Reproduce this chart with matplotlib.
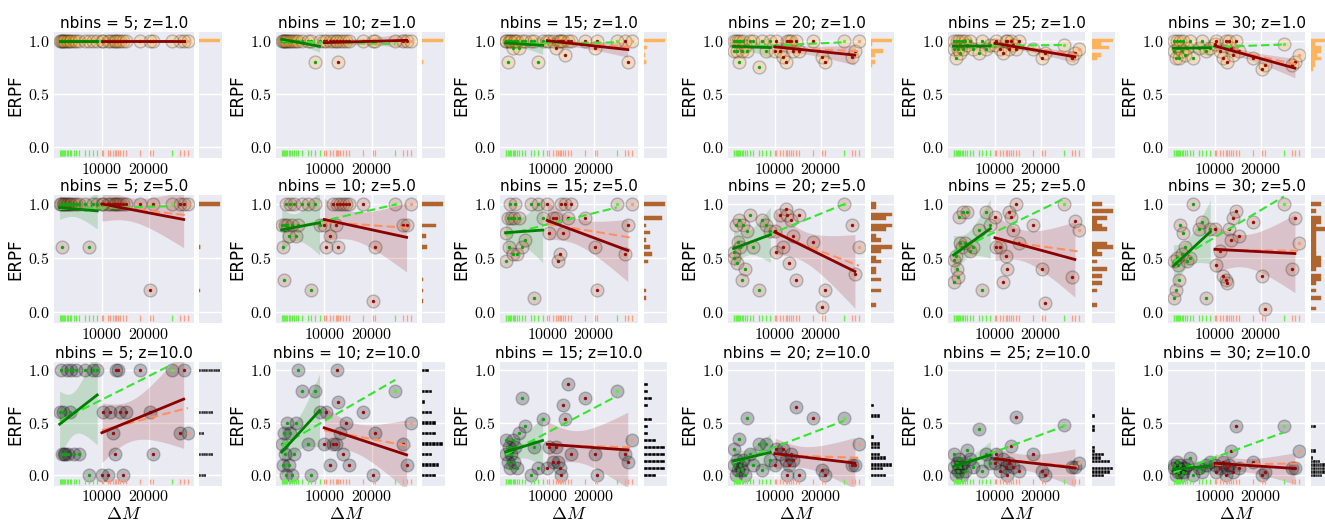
import numpy as np
import matplotlib.pyplot as plt
from matplotlib.ticker import FixedLocator, FuncFormatter

plt.rcParams['mathtext.fontset'] = 'cm'
plt.rcParams['font.family'] = ['DejaVu Sans']

# --- data ---------------------------------------------------------------
# Delta M of every point, split by group
x_green = [1000, 1200, 1500, 1700, 2000, 2200, 2500, 2800, 3100, 3500,
           4000, 4500, 5200, 6500, 7200, 8000, 9000]
x_red = [10000, 10300, 11200, 11800, 12400, 12700, 13000, 13400, 13900,
         14500, 15200, 18200, 20300, 20800, 26700, 27400]
x_lime = [25000]
x_salmon = [28300]

nbins_list = [5, 10, 15, 20, 25, 30]
z_list = [1.0, 5.0, 10.0]

# ERPF per panel: 17 green, 16 red, then lime, salmon
erpf_n5_z1 = [1.0, 1.0, 1.0, 1.0, 1.0, 1.0, 1.0, 1.0, 1.0, 1.0, 1.0, 1.0, 1.0, 1.0, 1.0, 1.0, 1.0,
              1.0, 1.0, 1.0, 1.0, 1.0, 1.0, 1.0, 1.0, 1.0, 1.0, 1.0, 1.0, 1.0, 1.0, 1.0, 1.0,
              1.0, 1.0]
erpf_n10_z1 = [1.0, 1.0, 1.0, 1.0, 1.0, 1.0, 1.0, 1.0, 1.0, 1.0, 1.0, 1.0, 1.0, 1.0, 1.0, 0.8, 1.0,
               1.0, 1.0, 1.0, 1.0, 1.0, 1.0, 0.8, 1.0, 1.0, 1.0, 1.0, 1.0, 1.0, 1.0, 1.0, 1.0,
               1.0, 1.0]
erpf_n15_z1 = [1.0, 1.0, 0.8, 1.0, 1.0, 1.0, 0.933, 1.0, 1.0, 1.0, 0.933, 1.0, 1.0, 1.0, 1.0, 0.8, 1.0,
               1.0, 1.0, 1.0, 0.933, 1.0, 1.0, 1.0, 1.0, 0.867, 1.0, 1.0, 1.0, 0.933, 1.0, 1.0, 0.8,
               1.0, 1.0]
erpf_n20_z1 = [1.0, 0.9, 1.0, 0.9, 1.0, 0.8, 1.0, 0.9, 1.0, 0.95, 0.9, 1.0, 1.0, 0.75, 1.0, 0.9, 1.0,
               0.9, 1.0, 0.9, 0.85, 0.8, 1.0, 1.0, 1.0, 0.9, 1.0, 0.9, 1.0, 0.85, 0.8, 0.85, 0.9,
               1.0, 1.0]
erpf_n25_z1 = [1.0, 0.92, 0.84, 1.0, 0.92, 1.0, 0.88, 1.0, 0.92, 1.0, 0.96, 1.0, 0.92, 0.88, 1.0, 0.92, 0.96,
               0.96, 1.0, 0.92, 0.88, 1.0, 1.0, 0.92, 1.0, 0.96, 0.92, 1.0, 0.92, 0.84, 0.88, 0.84, 0.88,
               0.96, 0.92]
erpf_n30_z1 = [1.0, 0.9, 0.833, 1.0, 0.933, 0.833, 1.0, 0.9, 1.0, 0.867, 0.933, 1.0, 0.833, 0.933, 1.0, 0.9, 0.933,
               0.967, 1.0, 0.9, 0.833, 1.0, 0.8, 1.0, 0.933, 0.867, 1.0, 0.9, 0.833, 0.733, 0.767, 0.767, 0.8,
               0.967, 0.867]

erpf_n5_z5 = [1.0, 1.0, 0.6, 1.0, 1.0, 1.0, 1.0, 1.0, 1.0, 1.0, 1.0, 1.0, 1.0, 1.0, 0.6, 1.0, 1.0,
              1.0, 1.0, 1.0, 1.0, 1.0, 1.0, 1.0, 1.0, 1.0, 1.0, 1.0, 1.0, 0.2, 1.0, 1.0, 1.0,
              1.0, 1.0]
erpf_n10_z5 = [0.8, 0.6, 0.3, 0.8, 1.0, 0.8, 0.7, 1.0, 0.8, 1.0, 0.7, 0.8, 1.0, 1.0, 0.2, 1.0, 0.8,
               0.8, 0.6, 0.7, 1.0, 0.8, 1.0, 0.6, 1.0, 1.0, 1.0, 1.0, 1.0, 0.1, 0.6, 0.8, 0.8,
               1.0, 1.0]
erpf_n15_z5 = [0.733, 0.467, 0.867, 0.6, 1.0, 0.867, 0.533, 0.867, 1.0, 0.533, 0.867, 0.6, 0.667, 1.0, 0.133, 1.0, 0.867,
               1.0, 0.733, 0.867, 0.867, 0.467, 0.533, 1.0, 0.733, 1.0, 0.867, 1.0, 0.867, 0.6, 0.2, 0.533, 0.8,
               1.0, 1.0]
erpf_n20_z5 = [0.55, 0.5, 0.8, 0.45, 0.65, 0.85, 0.6, 0.3, 0.8, 0.4, 0.75, 0.9, 0.6, 0.2, 0.85, 0.8, 0.75,
               0.75, 0.55, 0.9, 0.6, 0.95, 0.9, 0.45, 0.85, 0.7, 0.3, 0.9, 0.65, 0.05, 0.2, 0.8, 0.35,
               1.0, 0.6]
erpf_n25_z5 = [0.48, 0.28, 0.52, 0.4, 0.32, 0.88, 0.64, 0.6, 0.92, 0.64, 0.92, 0.56, 0.6, 0.76, 0.2, 0.92, 0.8,
               0.88, 0.6, 0.6, 0.28, 0.52, 0.4, 0.92, 0.88, 0.76, 1.0, 0.64, 0.8, 0.4, 0.08, 0.32, 0.84,
               1.0, 0.76]
erpf_n30_z5 = [0.467, 0.133, 0.2, 0.5, 0.433, 0.3, 0.8, 0.533, 0.733, 0.6, 0.467, 0.5, 1.0, 0.767, 0.833, 0.133, 0.767,
               0.767, 0.433, 0.567, 0.333, 0.3, 0.267, 0.767, 0.667, 0.867, 0.933, 0.7, 0.833, 0.333, 0.033, 0.4, 0.867,
               1.0, 0.633]

erpf_n5_z10 = [0.6, 1.0, 0.2, 0.6, 0.2, 0.2, 1.0, 0.2, 0.6, 1.0, 0.2, 1.0, 0.2, 1.0, 0.0, 1.0, 1.0,
               0.0, 0.6, 0.0, 0.6, 0.4, 0.2, 1.0, 1.0, 0.6, 0.0, 0.6, 1.0, 0.6, 0.2, 0.4, 1.0,
               1.0, 0.4]
erpf_n10_z10 = [0.3, 0.1, 0.4, 0.2, 0.0, 0.5, 0.1, 0.4, 0.0, 0.2, 0.5, 1.0, 0.8, 0.3, 0.0, 0.8, 0.6,
                0.3, 0.6, 0.1, 0.3, 0.3, 1.0, 0.7, 0.4, 0.2, 0.5, 0.1, 0.6, 0.0, 0.4, 0.3, 0.1,
                0.8, 0.5]
erpf_n15_z10 = [0.2, 0.333, 0.133, 0.267, 0.067, 0.2, 0.333, 0.133, 0.267, 0.067, 0.4, 0.733, 0.467, 0.0, 0.267, 0.067, 0.533,
                0.067, 0.267, 0.133, 0.267, 0.133, 0.067, 0.0, 0.667, 0.533, 0.867, 0.2, 0.733, 0.2, 0.0, 0.2, 0.133,
                0.8, 0.333]
erpf_n20_z10 = [0.1, 0.25, 0.0, 0.15, 0.05, 0.35, 0.1, 0.05, 0.15, 0.0, 0.55, 0.2, 0.1, 0.3, 0.05, 0.3, 0.15,
                0.1, 0.25, 0.2, 0.25, 0.15, 0.0, 0.1, 0.2, 0.15, 0.65, 0.0, 0.55, 0.05, 0.0, 0.1, 0.1,
                0.55, 0.3]
erpf_n25_z10 = [0.08, 0.2, 0.0, 0.12, 0.04, 0.16, 0.08, 0.0, 0.12, 0.04, 0.24, 0.16, 0.08, 0.44, 0.04, 0.2, 0.12,
                0.12, 0.2, 0.04, 0.16, 0.08, 0.0, 0.12, 0.28, 0.08, 0.56, 0.04, 0.2, 0.04, 0.0, 0.08, 0.08,
                0.48, 0.12]
erpf_n30_z10 = [0.067, 0.1, 0.0, 0.133, 0.033, 0.067, 0.1, 0.0, 0.033, 0.067, 0.1, 0.167, 0.0, 0.067, 0.033, 0.1, 0.133,
                0.1, 0.033, 0.067, 0.133, 0.0, 0.067, 0.1, 0.233, 0.033, 0.467, 0.067, 0.133, 0.0, 0.033, 0.067, 0.067,
                0.467, 0.233]

panels = [
    [erpf_n5_z1, erpf_n10_z1, erpf_n15_z1, erpf_n20_z1, erpf_n25_z1, erpf_n30_z1],
    [erpf_n5_z5, erpf_n10_z5, erpf_n15_z5, erpf_n20_z5, erpf_n25_z5, erpf_n30_z5],
    [erpf_n5_z10, erpf_n10_z10, erpf_n15_z10, erpf_n20_z10, erpf_n25_z10, erpf_n30_z10],
]

# --- styling ------------------------------------------------------------
BG = '#EAEAF2'
row_colors = ['#FFA62B', '#A5582A', '#000000']
hist_colors = ['#FFB45C', '#B0652F', '#000000']
dot_green, dot_red, dot_lime, dot_salmon = '#0FA30F', '#9B0A0A', '#55F035', '#FF9A70'

W, H = 1325, 521
col_px = [(54, 194, 199), (276, 417, 422), (500, 638, 644),
          (728, 865, 871), (948, 1085, 1092), (1168, 1305, 1311)]
row_px = [(32, 158), (195, 323), (362, 486)]
marg_w = 23


def fit_line(x, y, xs):
    x = np.asarray(x, float)
    y = np.asarray(y, float)
    b, a = np.polyfit(x, y, 1)
    yhat = a + b * xs
    resid = y - (a + b * x)
    n = len(x)
    s = np.sqrt(np.sum(resid ** 2) / (n - 2))
    sxx = np.sum((x - x.mean()) ** 2)
    se = s * np.sqrt(1.0 / n + (xs - x.mean()) ** 2 / sxx)
    return yhat, 2.13 * se


def style_axes(ax):
    ax.set_facecolor(BG)
    for sp in ax.spines.values():
        sp.set_visible(False)
    ax.grid(True, color='white', lw=1.0)
    ax.set_axisbelow(True)
    ax.tick_params(length=0, labelsize=11.5, pad=3)


fig = plt.figure(figsize=(W / 100, H / 100), dpi=100)

ng = len(x_green)
nr = len(x_red)

for r, z in enumerate(z_list):
    top, bot = row_px[r]
    for c, nb in enumerate(nbins_list):
        left, right, mleft = col_px[c]
        y_all = np.array(panels[r][c], float)
        y_g = y_all[:ng]
        y_r = y_all[ng:ng + nr]
        y_l = y_all[ng + nr:ng + nr + 1]
        y_s = y_all[ng + nr + 1:]

        ax = fig.add_axes([left / W, 1 - bot / H, (right - left) / W, (bot - top) / H])
        style_axes(ax)

        # regression bands + lines
        xs_g = np.linspace(min(x_green), max(x_green), 60)
        yh, ci = fit_line(x_green, y_g, xs_g)
        ax.fill_between(xs_g, yh - ci, yh + ci, color='green', alpha=0.17, lw=0, zorder=1)
        ax.plot(xs_g, yh, color='green', lw=2, zorder=5)

        xs_r = np.linspace(min(x_red), max(x_red), 60)
        yh, ci = fit_line(x_red, y_r, xs_r)
        ax.fill_between(xs_r, yh - ci, yh + ci, color='darkred', alpha=0.17, lw=0, zorder=1)
        ax.plot(xs_r, yh, color='darkred', lw=2, zorder=5)

        xg_all = x_green + x_lime
        xs_gl = np.linspace(min(xg_all), max(xg_all), 60)
        yh, _ = fit_line(xg_all, np.concatenate([y_g, y_l]), xs_gl)
        ax.plot(xs_gl, yh, color='#33E62E', lw=1.5, ls=(0, (4, 2)), zorder=4)

        xr_all = x_red + x_salmon
        xs_rs = np.linspace(min(xr_all), max(xr_all), 60)
        yh, _ = fit_line(xr_all, np.concatenate([y_r, y_s]), xs_rs)
        ax.plot(xs_rs, yh, color='#FF8F60', lw=1.5, ls=(0, (4, 2)), zorder=4)

        # big translucent circles, then small coloured dots
        x_all = x_green + x_red + x_lime + x_salmon
        ax.scatter(x_all, y_all, s=85, color=row_colors[r], alpha=0.22,
                   edgecolors='k', linewidths=1.0, zorder=2)
        ax.scatter(x_green, y_g, s=6, color=dot_green, lw=0, zorder=3)
        ax.scatter(x_red, y_r, s=6, color=dot_red, lw=0, zorder=3)
        ax.scatter(x_lime, y_l, s=6, color=dot_lime, lw=0, zorder=3)
        ax.scatter(x_salmon, y_s, s=6, color=dot_salmon, lw=0, zorder=3)

        # rug
        trans = ax.get_xaxis_transform()
        ax.vlines(x_green + x_lime, 0.015, 0.06, transform=trans, colors='#66F04A', lw=0.9)
        ax.vlines(x_red + x_salmon, 0.015, 0.06, transform=trans, colors='#FF9E80', lw=0.9)

        ax.set_xlim(-200, 29600)
        ax.set_ylim(-0.1, 1.08)
        ax.xaxis.set_major_locator(FixedLocator([10000, 20000]))
        ax.yaxis.set_major_locator(FixedLocator([0.0, 0.5, 1.0]))
        ax.xaxis.set_major_formatter(FuncFormatter(lambda v, p: '$%d$' % v))
        ax.yaxis.set_major_formatter(FuncFormatter(lambda v, p: '$%.1f$' % v))
        ax.set_ylabel('ERPF', fontsize=12, labelpad=3)
        ax.set_title('nbins = %d; z=%.1f' % (nb, z), fontsize=11, pad=3)
        if r == 2:
            ax.tick_params(axis='x', pad=2)
            ax.set_xlabel(r'$\Delta M$', fontsize=13, labelpad=1)

        # marginal histogram, drawn as unit blocks
        axm = fig.add_axes([mleft / W, 1 - bot / H, marg_w / W, (bot - top) / H], sharey=ax)
        style_axes(axm)
        axm.grid(axis='x', visible=False)
        edges = np.linspace(-1 / 60, 1 + 1 / 60, 32)
        counts, _ = np.histogram(y_all, bins=edges)
        centers = (edges[:-1] + edges[1:]) / 2
        edge_col = BG if r == 2 else hist_colors[r]
        for yc, n in zip(centers, counts):
            if n:
                axm.barh(np.full(n, yc), 1, left=np.arange(n), height=0.034,
                         color=hist_colors[r], edgecolor=edge_col, lw=0.3)
        axm.set_xlim(0, counts.max() * 1.12)
        axm.set_xticks([])
        axm.tick_params(labelleft=False)

fig.savefig('out.png', dpi=100)
